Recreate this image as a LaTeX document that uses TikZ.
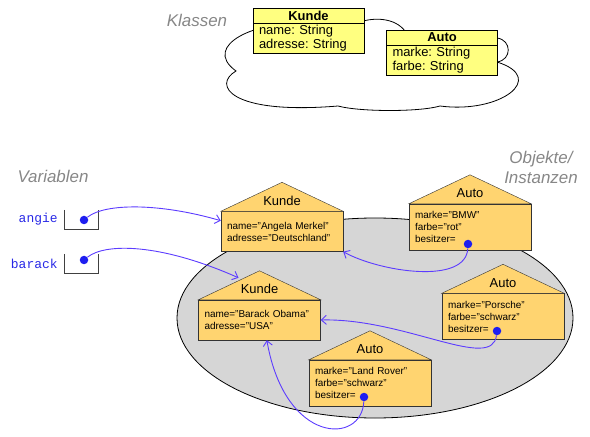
\documentclass[tikz,border=0pt]{standalone}
\usepackage{fontspec}
\setmainfont{Liberation Sans}
\setsansfont{Liberation Sans}
\setmonofont{Liberation Mono}
\usepackage{xcolor}
\usetikzlibrary{positioning, arrows.meta, shapes, calc}
\definecolor{classyellow}{RGB}{255,255,128}
\definecolor{objorange}{RGB}{255,212,112}
\definecolor{setgray}{RGB}{214,214,214}
\definecolor{refblue}{RGB}{92,60,255}
\definecolor{dotblue}{RGB}{30,30,240}
\definecolor{varblue}{RGB}{40,40,230}
\definecolor{labelgray}{RGB}{135,135,135}
\frenchspacing

\begin{document}
\begin{tikzpicture}[
        x=1bp, y=-1bp,
        area/.style={font=\fontsize{17}{20}\selectfont\itshape, text=labelgray, align=center},
        classhead/.style={rectangle, draw, fill=classyellow, minimum width=111bp, minimum height=15bp, inner sep=0pt, font=\fontsize{13}{14}\selectfont\bfseries},
        classbody/.style={rectangle, draw, fill=classyellow, minimum height=30bp, text width=99bp, inner xsep=6bp, inner ysep=0pt, align=left, font=\fontsize{13}{14}\selectfont},
        instance/.style={rectangle, draw=black!80, fill=objorange, text width=110bp, inner xsep=6bp, inner ysep=0pt, align=left, font=\fontsize{10}{12}\selectfont},
        roof/.style={draw=black!80, fill=objorange},
        objtitle/.style={font=\fontsize{13}{14}\selectfont, inner sep=0pt},
        varname/.style={font=\ttfamily\fontsize{13}{14}\selectfont, text=varblue, inner sep=1bp},
        varslot/.style={rectangle, minimum width=33bp, minimum height=19bp, inner sep=0pt},
        pointer/.style={circle, fill=dotblue, inner sep=0pt, minimum size=8.5bp},
        ref/.style={draw=refblue, line width=0.9bp, -{Straight Barb[length=5bp, width=9bp]}}
    ]
    \useasboundingbox (0,0) rectangle (590,437);

    % Klassen: cloud with the two class boxes
    \draw[fill=white, line width=0.8bp] (300,25)
        .. controls (260,20) and (200,45) .. (236,71)
        .. controls (212,85) and (230,115) .. (338,106)
        .. controls (360,112) and (420,112) .. (440,106)
        .. controls (500,114) and (548,78) .. (497,62)
        .. controls (512,60) and (512,40) .. (497,38)
        -- (405,31)
        .. controls (395,18) and (375,17) .. (360,22)
        -- cycle;
    \node[area] (klassen) at (197,20) {Klassen};

    \node[classhead] (kundeK) at (308.5,15.5) {Kunde};
    \node[classbody, below=0pt of kundeK] (kundeB) {name: String\\adresse: String};
    \node[classhead] (autoK) at (442,37.5) {Auto};
    \node[classbody, below=0pt of autoK] (autoB) {marke: String\\farbe: String};

    % Objekte/Instanzen
    \node[area] (objekte) at (541,167) {Objekte/\\Instanzen};
    \node[draw, ellipse, fill=setgray, line width=0.8bp, minimum width=396bp, minimum height=200bp] (objset) at (375,318) {};

    \node[instance, minimum height=40bp] (merkel) at (282,231.5) {name="Angela Merkel"\\adresse="Deutschland"};
    \node[instance, minimum height=46bp] (bmw) at (470,227) {marke="BMW"\\farbe="rot"\\besitzer=};
    \node[instance, minimum height=40bp] (obama) at (259.5,320) {name="Barack Obama"\\adresse="USA"};
    \node[instance, minimum height=46bp] (porsche) at (503,316.5) {marke="Porsche"\\farbe="schwarz"\\besitzer=};
    \node[instance, minimum height=46bp] (rover) at (370,383) {marke="Land Rover"\\farbe="schwarz"\\besitzer=};

    \foreach \o/\t in {merkel/Kunde, bmw/Auto, obama/Kunde, porsche/Auto, rover/Auto} {
        \draw[roof] (\o.north west) -- ([yshift=29bp]\o.north) -- (\o.north east) -- cycle;
        \node[objtitle] (\o-title) at ([yshift=10.5bp]\o.north) {\t};
    }

    % Variablen
    \node[area] (variablen) at (53,176) {Variablen};
    \node[varslot] (angieslot) at (81.5,219.5) {};
    \node[varslot] (barackslot) at (81.5,263.5) {};
    \foreach \v in {angie, barack} {
        \draw[black!75, line width=0.8bp] (\v slot.north west) |- (\v slot.south east) -- (\v slot.north east);
        \node[varname, left=6bp of \v slot] (\v name) {\v};
    }

    % references
    \node[pointer] (angiedot) at (84,220) {};
    \node[pointer] (barackdot) at (84,260) {};
    \node[pointer] (bmwdot) at (468,244) {};
    \node[pointer] (porschedot) at (497,331) {};
    \node[pointer] (roverdot) at (364,397) {};

    \draw[ref] (angiedot) .. controls (105,203) and (160,203) .. (merkel.170);
    \draw[ref] (barackdot) .. controls (105,243) and (160,243) .. ($(obama.north)+(-21,-22)$);
    \draw[ref] (bmwdot) .. controls (466,285) and (380,272) .. (merkel.south east);
    \draw[ref] (porschedot) .. controls (492,372) and (405,318) .. (obama.east);
    \draw[ref] (roverdot) .. controls (362,445) and (285,445) .. (obama.-70);
\end{tikzpicture}
\end{document}
